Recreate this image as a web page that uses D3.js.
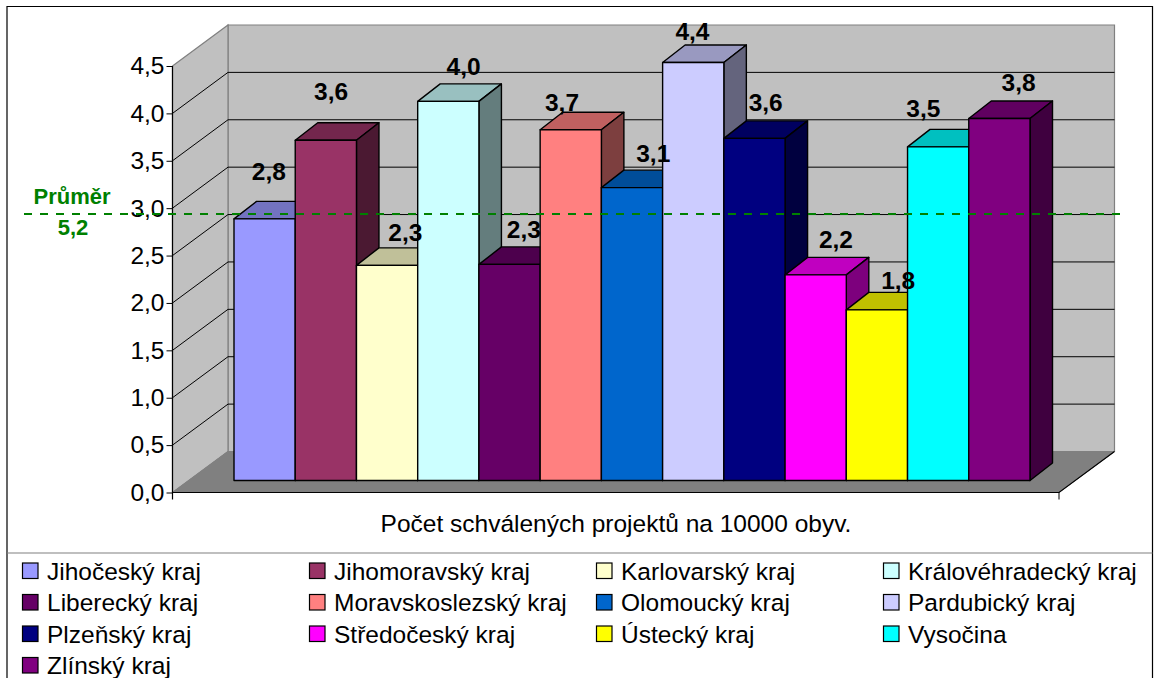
<!DOCTYPE html>
<html>
<head>
<meta charset="utf-8">
<style>
  html, body { margin: 0; padding: 0; background: #fff; }
  svg { display: block; }
  text { font-family: "Liberation Sans", Arial, sans-serif; fill: #000; }
</style>
<script src="https://cdnjs.cloudflare.com/ajax/libs/d3/7.8.5/d3.min.js"></script>
</head>
<body>
<svg id="chart" width="1154" height="678"></svg>
<script>
var categories = ["Jihočeský kraj","Jihomoravský kraj","Karlovarský kraj","Královéhradecký kraj",
  "Liberecký kraj","Moravskoslezský kraj","Olomoucký kraj","Pardubický kraj",
  "Plzeňský kraj","Středočeský kraj","Ústecký kraj","Vysočina","Zlínský kraj"];
var values = [2.76,3.59,2.27,4.0,2.28,3.7,3.09,4.41,3.61,2.17,1.8,3.52,3.82];
var colors = ["#9999ff","#993366","#ffffcc","#ccffff","#660066","#ff8080","#0066cc",
  "#ccccff","#000080","#ff00ff","#ffff00","#00ffff","#800080"];
var ticks = [0,0.5,1,1.5,2,2.5,3,3.5,4,4.5];
var average = 5.2;
var axisTitle = "Počet schválených projektů na 10000 obyv.";

// the labels were placed by hand in the original, so they don't sit evenly over the bars
var labelDx = [-7,-6,7,4,3,-20,10,-12,0,9,10,-26,8];
var labelDy = [-47,-49,-33,-35,-35,-27,-34,-31,-36,-35,-29,-38,-36];

var svg = d3.select("#chart");
var comma = function(d){ return d3.format(".1f")(d).replace(".",","); };

// wall and floor geometry of the fake 3d box
var left = 172.5, right = 1059, wallDx = 55.5, wallDy = 41;
var barDx = 22.5, barDy = 17.5, barLift = 12;

var y = d3.scaleLinear().domain([0,4.5]).range([492.5,66]);
var x = d3.scaleBand().domain(categories).range([234,1030]);

// outer frame and legend separator
svg.append("path").attr("d","M7,678V6.5H1152.5V678").attr("fill","none").attr("stroke","#000").attr("stroke-width",1.2);
svg.append("line").attr("x1",7).attr("x2",1152.5).attr("y1",553).attr("y2",553).attr("stroke","#808080").attr("stroke-width",1.2);

// walls
var pts = function(a){ return a.map(function(p){ return p.join(","); }).join(" "); };
svg.append("polygon")
  .attr("points",pts([[left+wallDx,y(4.5)-wallDy],[right+wallDx,y(4.5)-wallDy],[right+wallDx,y(0)-wallDy],[left+wallDx,y(0)-wallDy]]))
  .attr("fill","#c0c0c0").attr("stroke","#808080").attr("stroke-width",1.2);
svg.append("polygon")
  .attr("points",pts([[left,y(4.5)],[left+wallDx,y(4.5)-wallDy],[left+wallDx,y(0)-wallDy],[left,y(0)]]))
  .attr("fill","#c0c0c0").attr("stroke","#808080").attr("stroke-width",1.2);
svg.append("polygon")
  .attr("points",pts([[left,y(0)],[right,y(0)],[right+wallDx,y(0)-wallDy],[left+wallDx,y(0)-wallDy]]))
  .attr("fill","#808080").attr("stroke","#808080");

// gridlines
var inner = ticks.slice(1,-1);
svg.append("g").selectAll("path").data(inner).enter().append("path")
  .attr("d",function(d){
    return "M"+left+","+y(d)+"L"+(left+wallDx)+","+(y(d)-wallDy)+"H"+(right+wallDx);
  })
  .attr("fill","none").attr("stroke","#000").attr("stroke-width",1);

// floor front edges
svg.append("path").attr("d","M"+left+","+y(0)+"H"+right+"L"+(right+wallDx)+","+(y(0)-wallDy))
  .attr("fill","none").attr("stroke","#000").attr("stroke-width",1.2);
svg.append("line").attr("x1",right).attr("x2",right).attr("y1",y(0)).attr("y2",y(0)+7).attr("stroke","#000");
svg.append("line").attr("x1",left).attr("x2",left).attr("y1",y(4.5)).attr("y2",y(0)+7).attr("stroke","#000").attr("stroke-width",1.2);

// value axis
var axis = d3.axisLeft(y).tickValues(ticks).tickFormat(comma).tickSize(6).tickPadding(2);
var gAxis = svg.append("g").attr("transform","translate("+left+",0)").call(axis);
gAxis.select(".domain").remove();
gAxis.selectAll("line").attr("stroke","#000");
gAxis.selectAll("text").attr("font-size",24.5).attr("font-family","Liberation Sans").attr("fill","#000");

// bars, left to right so the later ones cover the sides of the earlier
var bars = svg.append("g").selectAll("g").data(categories).enter().append("g")
  .attr("stroke","#000").attr("stroke-width",1.4).attr("stroke-linejoin","round");
bars.append("polygon").attr("class","top")
  .attr("points",function(d,i){
    var x0 = x(d), x1 = x0+x.bandwidth(), t = y(values[i])-barLift;
    return pts([[x0,t],[x0+barDx,t-barDy],[x1+barDx,t-barDy],[x1,t]]);
  })
  .attr("fill",function(d,i){ return d3.rgb(colors[i]).darker(0.8); });
bars.append("polygon").attr("class","side")
  .attr("points",function(d,i){
    var x1 = x(d)+x.bandwidth(), t = y(values[i])-barLift, b = y(0)-barLift;
    return pts([[x1,t],[x1+barDx,t-barDy],[x1+barDx,b-barDy],[x1,b]]);
  })
  .attr("fill",function(d,i){ return d3.rgb(colors[i]).darker(2); });
bars.append("rect").attr("class","front")
  .attr("x",function(d){ return x(d); })
  .attr("width",x.bandwidth())
  .attr("y",function(d,i){ return y(values[i])-barLift; })
  .attr("height",function(d,i){ return y(0)-y(values[i]); })
  .attr("fill",function(d,i){ return colors[i]; });

// data labels
svg.append("g").selectAll("text").data(values).enter().append("text")
  .attr("x",function(d,i){ return x(categories[i])+x.bandwidth()/2+barDx/2+labelDx[i]; })
  .attr("y",function(d,i){ return y(d)-barLift+labelDy[i]; })
  .attr("text-anchor","middle").attr("dominant-baseline","central")
  .attr("font-size",24.5).attr("font-weight","bold").attr("stroke","none")
  .text(comma);

// average line with its note
svg.append("line").attr("x1",24).attr("x2",1125).attr("y1",214).attr("y2",214)
  .attr("stroke","#008000").attr("stroke-width",2).attr("stroke-dasharray","8,8");
svg.append("text").attr("x",72).attr("y",204).attr("text-anchor","middle")
  .attr("font-size",22).attr("font-weight","bold").style("fill","#008000").text("Průměr");
svg.append("text").attr("x",73).attr("y",235).attr("text-anchor","middle")
  .attr("font-size",22).attr("font-weight","bold").style("fill","#008000").text(comma(average));

svg.append("text").attr("x",616).attr("y",532).attr("text-anchor","middle")
  .attr("font-size",24.5).text(axisTitle);

// legend, 4 columns
var legendX = d3.scaleLinear().domain([0,4]).range([22.5,1170.5]);
var legendY = d3.scaleLinear().domain([0,3]).range([563,657.5]);
var legend = svg.append("g").selectAll("g").data(categories).enter().append("g")
  .attr("transform",function(d,i){ return "translate("+legendX(i%4)+","+legendY(Math.floor(i/4))+")"; });
legend.append("rect").attr("width",15.5).attr("height",15.5)
  .attr("fill",function(d,i){ return colors[i]; })
  .attr("stroke","#000").attr("stroke-width",1.2);
legend.append("text").attr("x",24.5).attr("y",16.5).attr("font-size",24.5).text(function(d){ return d; });
</script>
</body>
</html>
